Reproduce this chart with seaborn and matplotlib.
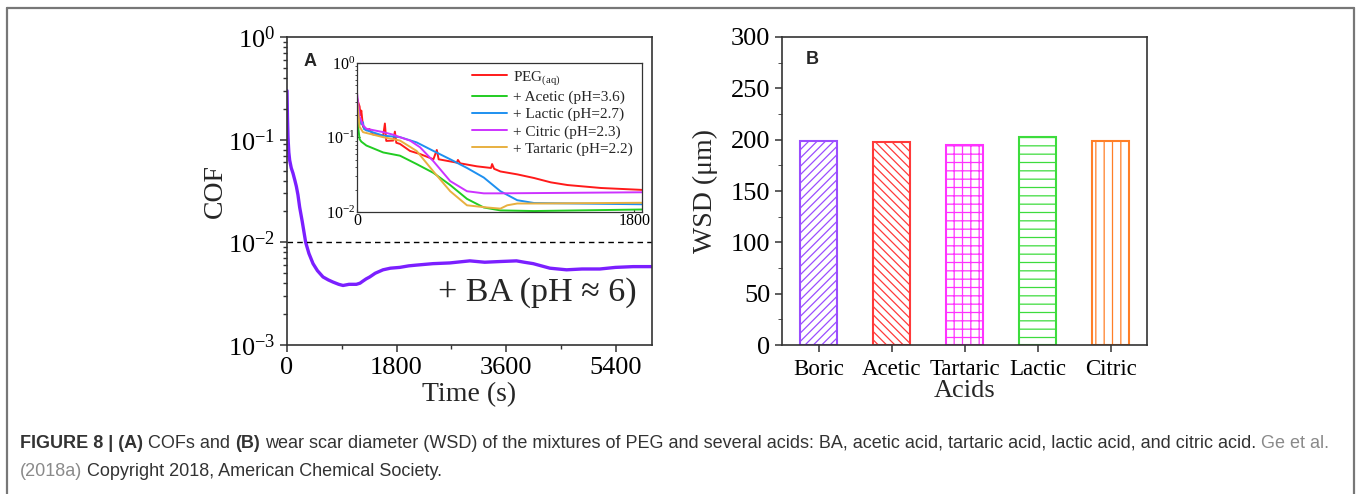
import numpy as np
import pandas as pd
import seaborn as sns
import matplotlib.pyplot as plt
from matplotlib.lines import Line2D
from matplotlib.ticker import NullFormatter

# --- Panel A main curve: PEG + boric acid ---
ba_time = [0, 8, 16, 30, 44, 70, 99, 130, 154, 180, 208, 250, 307, 360, 428, 500, 592, 680,
           757, 850, 921, 1020, 1140, 1200, 1250, 1300, 1360, 1450, 1579, 1700, 1853, 2000,
           2127, 2400, 2676, 3005, 3250, 3498, 3772, 3900, 4047, 4321, 4595, 4850, 5143,
           5400, 5691, 5993]
ba_cof = [0.30, 0.16, 0.106, 0.075, 0.063, 0.053, 0.047, 0.040, 0.035, 0.029, 0.022, 0.016,
          0.010, 0.0078, 0.0062, 0.0053, 0.0046, 0.0043, 0.0041, 0.0039, 0.0038, 0.0039,
          0.0039, 0.0040, 0.0042, 0.0044, 0.0046, 0.0050, 0.0054, 0.0056, 0.0057, 0.0059,
          0.0060, 0.0062, 0.0063, 0.0066, 0.0064, 0.0065, 0.0066, 0.0064, 0.0062, 0.0056,
          0.0054, 0.0055, 0.0055, 0.0057, 0.0058, 0.0058]

# --- Panel A inset: PEG and PEG + other acids ---
peg_time = [0, 7, 17, 22, 28, 39, 61, 80, 104, 170, 181, 190, 235, 246, 255, 279, 344, 409,
            496, 518, 530, 648, 655, 670, 779, 870, 877, 890, 931, 1040, 1149, 1258, 1367, 1584, 1850]
peg_cof = [0.34, 0.30, 0.26, 0.20, 0.23, 0.14, 0.125, 0.13, 0.11, 0.106, 0.154, 0.09, 0.091,
           0.12, 0.085, 0.082, 0.066, 0.060, 0.051, 0.068, 0.051, 0.046, 0.050, 0.045, 0.041,
           0.039, 0.044, 0.038, 0.035, 0.032, 0.0286, 0.025, 0.023, 0.021, 0.0198]
acetic_time = [0, 7, 17, 28, 61, 170, 279, 387, 496, 605, 714, 823, 931, 1149, 1850]
acetic_cof = [0.23, 0.14, 0.095, 0.088, 0.078, 0.063, 0.057, 0.044, 0.0335, 0.023, 0.015,
              0.0115, 0.0105, 0.0103, 0.0108]
lactic_time = [0, 17, 28, 39, 45, 61, 170, 279, 387, 496, 605, 714, 823, 931, 1040, 1149, 1850]
lactic_cof = [0.25, 0.17, 0.15, 0.16, 0.13, 0.125, 0.106, 0.101, 0.086, 0.066, 0.051, 0.039,
              0.029, 0.019, 0.0144, 0.0132, 0.0127]
citric_time = [0, 17, 39, 61, 170, 235, 279, 344, 409, 496, 605, 714, 823, 931, 1850]
citric_cof = [0.40, 0.19, 0.146, 0.131, 0.118, 0.109, 0.101, 0.091, 0.074, 0.048, 0.026,
              0.019, 0.0178, 0.0178, 0.0184]
tartaric_time = [0, 17, 39, 170, 279, 387, 496, 605, 714, 844, 931, 975, 1040, 1149, 1850]
tartaric_cof = [0.32, 0.139, 0.118, 0.101, 0.091, 0.066, 0.035, 0.019, 0.0123, 0.0115,
                0.0111, 0.0123, 0.013, 0.013, 0.0133]

inset_labels = ['PEG$_{\\rm (aq)}$', '+ Acetic (pH=3.6)', '+ Lactic (pH=2.7)',
                '+ Citric (pH=2.3)', '+ Tartaric (pH=2.2)']
inset_colors = ['#ff1a1a', '#22cc22', '#1e90f0', '#cc33ff', '#e8b040']

# --- Panel B: wear scar diameter ---
acids = ['Boric', 'Acetic', 'Tartaric', 'Lactic', 'Citric']
wsd = [199, 198, 195, 203, 199]
bar_colors = ['#9b4dff', '#ff3a3a', '#ff33ff', '#3ddc3d', '#ff7f27']
bar_hatches = ['////', '\\\\\\\\', '++', '--', '||']

sns.set_style('ticks')
plt.rcParams['font.family'] = ['Liberation Serif', 'DejaVu Serif']
plt.rcParams['mathtext.fontset'] = 'custom'
plt.rcParams['mathtext.rm'] = 'Liberation Serif'
plt.rcParams['mathtext.default'] = 'regular'
plt.rcParams['axes.edgecolor'] = '#333333'
plt.rcParams['axes.linewidth'] = 1.2
plt.rcParams['xtick.color'] = '#333333'
plt.rcParams['ytick.color'] = '#333333'
plt.rcParams['xtick.labelcolor'] = 'black'
plt.rcParams['ytick.labelcolor'] = 'black'
plt.rcParams['hatch.linewidth'] = 0.9

fig = plt.figure(figsize=(13.57, 4.94), dpi=100)
W, H = 1357, 494


def px_axes(x0, y0, x1, y1):
    return fig.add_axes([x0 / W, 1 - y1 / H, (x1 - x0) / W, (y1 - y0) / H])


# ---------- Panel A ----------
ax = px_axes(287, 37, 652, 345)
ba = pd.DataFrame({'time': ba_time, 'cof': ba_cof})
sns.lineplot(data=ba, x='time', y='cof', color='#7b1fff', linewidth=2.4, ax=ax)
ax.axhline(0.01, color='black', linestyle=(0, (4, 3)), linewidth=1.0)
ax.set_yscale('log')
ax.set_ylim(1e-3, 1)
ax.set_xlim(0, 6000)
ax.set_xticks([0, 1800, 3600, 5400])
ax.set_xticks([900, 2700, 4500], minor=True)
ax.set_yticks([1e-3, 1e-2, 1e-1, 1])
ax.set_yticklabels(['10$^{-3}$', '10$^{-2}$', '10$^{-1}$', '10$^{0}$'])
ax.yaxis.set_minor_formatter(NullFormatter())
ax.tick_params(labelsize=19, length=5, width=1.1)
ax.tick_params(axis='x', pad=4)
ax.tick_params(which='minor', length=3, width=1.0)
ax.set_xlabel('Time (s)', fontsize=20, labelpad=2)
ax.set_ylabel('COF', fontsize=20)
ax.yaxis.set_label_coords(-0.162, 0.5)
ax.text(0.958, 0.17, '+ BA (pH \u2248 6)', transform=ax.transAxes, ha='right',
        va='center', fontsize=24.5)

# inset
axi = px_axes(357, 63, 642, 212)
frames = []
for lab, t, c in zip(inset_labels,
                     [peg_time, acetic_time, lactic_time, citric_time, tartaric_time],
                     [peg_cof, acetic_cof, lactic_cof, citric_cof, tartaric_cof]):
    frames.append(pd.DataFrame({'time': t, 'cof': c, 'series': lab}))
inset = pd.concat(frames, ignore_index=True)
sns.lineplot(data=inset, x='time', y='cof', hue='series', hue_order=inset_labels,
             palette=dict(zip(inset_labels, inset_colors)), linewidth=1.4, ax=axi,
             legend=False)
axi.set_yscale('log')
axi.set_ylim(1e-2, 1)
axi.set_xlim(0, 1850)
axi.set_xticks([0, 1800])
axi.set_yticks([1e-2, 1e-1, 1])
axi.set_yticklabels(['10$^{-2}$', '10$^{-1}$', '10$^{0}$'])
axi.yaxis.set_minor_formatter(NullFormatter())
axi.tick_params(labelsize=11.5, length=2, width=0.8, pad=1, direction='in')
axi.tick_params(which='minor', length=1.5)
axi.set_xlabel('')
axi.set_ylabel('')
for s in axi.spines.values():
    s.set_linewidth(0.9)
handles = [Line2D([0], [0], color=c, lw=1.4) for c in inset_colors]
axi.legend(handles, inset_labels, loc='upper right', frameon=False, fontsize=11,
           handlelength=2.3, handletextpad=0.4, labelspacing=0.22,
           borderaxespad=0.2, bbox_to_anchor=(1.0, 1.02))

# ---------- Panel B ----------
axb = px_axes(782, 37, 1147, 345)
wsd_df = pd.DataFrame({'acid': acids, 'wsd': wsd})
sns.barplot(data=wsd_df, x='acid', y='wsd', hue='acid', order=acids,
            palette=dict(zip(acids, bar_colors)), fill=False, width=0.5,
            linewidth=1.5, legend=False, ax=axb)
for patch, hatch, col in zip(axb.patches, bar_hatches, bar_colors):
    patch.set_hatch(hatch)
    patch.set_edgecolor(col)
axb.set_ylim(0, 300)
axb.set_xlim(-0.5, 4.5)
axb.set_yticks(range(0, 301, 50))
axb.set_yticks(range(25, 300, 50), minor=True)
axb.tick_params(axis='y', labelsize=19, length=5, width=1.1)
axb.tick_params(axis='y', which='minor', length=3)
axb.tick_params(axis='x', labelsize=16.5, length=5, width=1.1, pad=5)
axb.set_xlabel('Acids', fontsize=19, labelpad=0)
axb.set_ylabel('WSD (\u03bcm)', fontsize=20)
axb.yaxis.set_label_coords(-0.175, 0.5)

# panel letters
fig.text(310 / W, 1 - 62 / H, 'A', fontsize=13, fontweight='bold',
         family='Liberation Sans', ha='center', va='center')
fig.text(812 / W, 1 - 60 / H, 'B', fontsize=13, fontweight='bold',
         family='Liberation Sans', ha='center', va='center')

# ---------- caption ----------
bg = fig.add_axes([0, 0, 1, 1], zorder=-1)
bg.set_axis_off()
bg.set_xlim(0, W)
bg.set_ylim(H, 0)
for xs, ys in [([7, 7], [8, H + 2]), ([7, 1354], [8, 8]), ([1354, 1354], [8, H + 2])]:
    bg.plot(xs, ys, color='#777777', linewidth=1.6, clip_on=False)

cap_size = 13
dark, grey = '#333333', '#8a8a8a'


def caption_line(y, pieces):
    prev = bg.text(20, y, pieces[0][0], fontsize=cap_size, fontweight=pieces[0][1],
                   color=pieces[0][2], family='Liberation Sans', va='bottom', ha='left')
    for txt, weight, color in pieces[1:]:
        prev = bg.annotate(txt, xy=(1, 0), xycoords=prev, xytext=(0.28 * cap_size, 0),
                           textcoords='offset points', fontsize=cap_size,
                           fontweight=weight, color=color, family='Liberation Sans',
                           va='bottom', ha='left')


caption_line(452, [('FIGURE 8 | (A)', 'bold', dark), ('COFs and', 'normal', dark),
                   ('(B)', 'bold', dark),
                   ('wear scar diameter (WSD) of the mixtures of PEG and several acids: BA, '
                    'acetic acid, tartaric acid, lactic acid, and citric acid.', 'normal', dark),
                   ('Ge et al.', 'normal', grey)])
caption_line(480, [('(2018a)', 'normal', grey),
                   ('Copyright 2018, American Chemical Society.', 'normal', dark)])

fig.savefig('out.png', dpi=100)
